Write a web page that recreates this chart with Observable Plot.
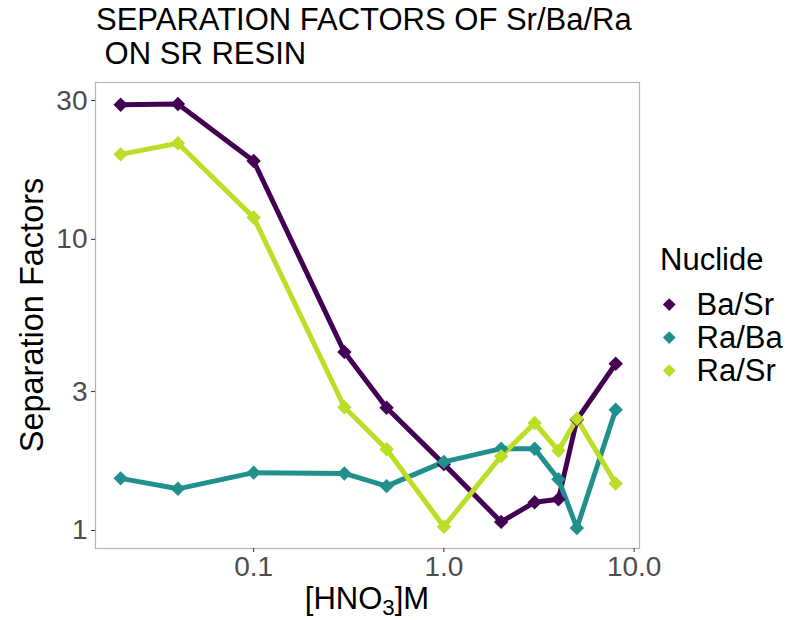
<!DOCTYPE html>
<html>
<head>
<meta charset="utf-8">
<script src="https://cdn.jsdelivr.net/npm/d3@7"></script>
<script src="https://cdn.jsdelivr.net/npm/@observablehq/plot@0.6"></script>
<style>
  html, body { margin: 0; padding: 0; background: #fff; }
  body { font-family: "Liberation Sans", Arial, Helvetica, sans-serif; }
  #wrap { position: relative; width: 789px; height: 620px; overflow: hidden; }
  #title { position: absolute; left: 96px; top: 3px; font-size: 31px; line-height: 34px; color: #000; white-space: pre; }
  #ylab { position: absolute; left: 32px; top: 315px; transform: translate(-50%, -50%) rotate(-90deg); font-size: 32.5px; white-space: nowrap; color: #000; }
  #xlab { position: absolute; left: 367px; top: 584px; transform: translateX(-50%); font-size: 31px; white-space: nowrap; color: #000; line-height: 30px; }
  #xlab sub { font-size: 0.72em; vertical-align: -0.25em; line-height: 0; }
  #legend { position: absolute; left: 660px; top: 242px; color: #000; }
  #legend .lt { font-size: 31px; line-height: 36px; margin-bottom: 10px; }
  #legend .item { display: flex; align-items: center; height: 33px; font-size: 31px; }
  #legend .sw { width: 8.5px; height: 8.5px; transform: rotate(45deg); margin-left: 5px; margin-right: 23px; flex: none; }
  svg g[aria-label="x-axis tick label"], svg g[aria-label="y-axis tick label"] { font-size: 28px; fill: #4d4d4d; }
  svg g[aria-label="x-axis tick"], svg g[aria-label="y-axis tick"] { stroke: #333333; }
  svg { font-family: "Liberation Sans", Arial, Helvetica, sans-serif; }
</style>
</head>
<body>
<div id="wrap">
  <div id="chart"></div>
  <div id="title">SEPARATION FACTORS OF Sr/Ba/Ra
 ON SR RESIN</div>
  <div id="ylab">Separation Factors</div>
  <div id="xlab">[HNO<sub>3</sub>]M</div>
  <div id="legend"></div>
</div>
<script>
// Data
const hno3 = [0.02, 0.04, 0.1, 0.3, 0.5, 1, 2, 3, 4, 5, 8];
const nuclides = ["Ba/Sr", "Ra/Ba", "Ra/Sr"];
const baSr = [29.0, 29.2, 18.6, 4.10, 2.64, 1.69, 1.07, 1.25, 1.28, 2.40, 3.74];
const raBa = [1.51, 1.39, 1.58, 1.57, 1.42, 1.72, 1.91, 1.91, 1.50, 1.02, 2.60];
const raSr = [19.6, 21.4, 11.9, 2.65, 1.90, 1.03, 1.80, 2.34, 1.88, 2.42, 1.45];
const colors = ["#440154", "#21908C", "#BBDF27"];
const xTicks = [0.1, 1, 10];
const yTicks = [1, 3, 10, 30];

const series = [baSr, raBa, raSr];
const data = [];
nuclides.forEach((n, i) => {
  hno3.forEach((x, j) => data.push({nuclide: n, x, y: series[i][j]}));
});

const chart = Plot.plot({
  width: 789,
  height: 620,
  marginLeft: 95,
  marginRight: 150,
  marginTop: 82,
  marginBottom: 72,
  style: {background: "#fff", fontFamily: "Liberation Sans, Arial, sans-serif"},
  x: {type: "log", domain: [0.01475, 10.67]},
  y: {type: "log", domain: [0.867, 34.6]},
  color: {domain: nuclides, range: colors},
  marks: [
    Plot.line(data, {x: "x", y: "y", z: "nuclide", stroke: "nuclide", strokeWidth: 5, strokeLinejoin: "round"}),
    Plot.dot(data, {x: "x", y: "y", fill: "nuclide", symbol: "diamond2", r: 6.5, stroke: "none"}),
    Plot.frame({stroke: "#b3b3b3", strokeWidth: 1.2}),
    Plot.axisX({ticks: xTicks, tickFormat: d3.format(".1f"), tickSize: 4, tickPadding: 4, label: null}),
    Plot.axisY({ticks: yTicks, tickFormat: d => String(d), tickSize: 4, tickPadding: 4, label: null})
  ]
});
document.getElementById("chart").appendChild(chart);

const legend = document.getElementById("legend");
const lt = document.createElement("div");
lt.className = "lt";
lt.textContent = "Nuclide";
legend.appendChild(lt);
nuclides.forEach((n, i) => {
  const item = document.createElement("div");
  item.className = "item";
  const sw = document.createElement("div");
  sw.className = "sw";
  sw.style.background = colors[i];
  const t = document.createElement("span");
  t.textContent = n;
  item.appendChild(sw);
  item.appendChild(t);
  legend.appendChild(item);
});
</script>
</body>
</html>
